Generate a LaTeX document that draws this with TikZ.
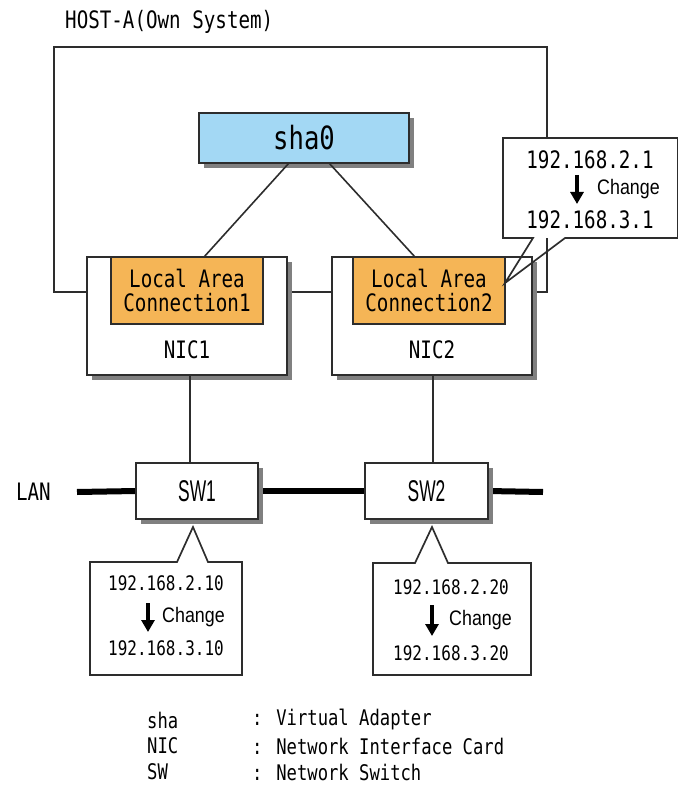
\documentclass[tikz,border=0pt]{standalone}
\usepackage{fontspec}
\newfontfamily\gfont[FakeStretch=0.8]{DejaVu Sans Mono}
\newfontfamily\pfont[FakeStretch=0.85]{Liberation Sans}
\newfontfamily\swfont[FakeStretch=0.58]{Liberation Sans}
\usetikzlibrary{shadows,arrows.meta,calc,backgrounds}
\definecolor{shablue}{RGB}{163,216,244}
\definecolor{lacorange}{RGB}{245,181,86}
\definecolor{edge}{RGB}{45,45,45}
\begin{document}
\begin{tikzpicture}[x=1pt,y=-1pt,
  box/.style={draw=edge, line width=1.7pt, inner sep=0pt, outer sep=0pt, line join=miter},
  shad/.style={drop shadow={shadow xshift=5pt,shadow yshift=-5pt,fill=black!50,opacity=1}},
  link/.style={draw=edge, line width=1.6pt},
  lanline/.style={draw=black, line width=6pt},
  gtext/.style={inner sep=0pt, font=\gfont\fontsize{24}{24}\selectfont},
  gsmall/.style={inner sep=0pt, font=\gfont\fontsize{20}{20}\selectfont},
  gleg/.style={inner sep=0pt, anchor=west, font=\gfont\fontsize{21.5}{21.5}\selectfont},
  ptext/.style={inner sep=0pt, anchor=west, font=\pfont\fontsize{21}{21}\selectfont},
  chg/.style={line width=3.4pt, -{Triangle[width=13pt,length=12pt]}},
  callout/.style={fill=white, inner sep=0pt, outer sep=0pt, anchor=north west}
]
\useasboundingbox (0,0) rectangle (677,786);

% title
\node[gtext, anchor=west] (title) at (65,22) {HOST-A(Own System)};

% host frame
\node[box, minimum width=493pt, minimum height=245pt, anchor=north west] (host) at (54,47) {};

% sha0
\node[box, shad, fill=shablue, minimum width=210pt, minimum height=50pt, anchor=north west,
      font=\gfont\fontsize{32}{32}\selectfont] (sha) at (199,113) {sha0};

% NIC boxes
\node[box, shad, fill=white, minimum width=200pt, minimum height=118pt, anchor=north west] (nic1) at (87,257) {};
\node[box, shad, fill=white, minimum width=200pt, minimum height=118pt, anchor=north west] (nic2) at (332,257) {};
\node[gtext] (nic1lbl) at (187,350) {NIC1};
\node[gtext] (nic2lbl) at (432,350) {NIC2};

% Local Area Connection boxes
\node[box, fill=lacorange, minimum width=152pt, minimum height=67pt, anchor=north west,
      align=center, font=\gfont\fontsize{24}{24}\selectfont] (lac1) at (111,257) {Local Area\\Connection1};
\node[box, fill=lacorange, minimum width=152pt, minimum height=67pt, anchor=north west,
      align=center, font=\gfont\fontsize{24}{24}\selectfont] (lac2) at (353,257) {Local Area\\Connection2};

% sha0 links
\draw[link] ($(sha.south west)+(90,0)$) -- ($(lac1.north)+(17,0)$);
\draw[link] ($(sha.south west)+(130,0)$) -- ($(lac2.north)+(-14,0)$);

% switches
\node[box, shad, fill=white, minimum width=122pt, minimum height=56pt, anchor=north west,
      font=\swfont\fontsize{30}{30}\selectfont] (sw1) at (136,463) {SW1};
\node[box, shad, fill=white, minimum width=123pt, minimum height=56pt, anchor=north west,
      font=\swfont\fontsize{30}{30}\selectfont] (sw2) at (365,463) {SW2};

\begin{scope}[on background layer]
  \coordinate (lanL) at (77,492);
  \coordinate (lanR) at (543,492);
  \draw[lanline] (lanL) -- (sw1.west);
  \draw[lanline] (sw1.east) -- (sw2.west);
  \draw[lanline] (sw2.east) -- (lanR);
\end{scope}
\node[gtext, anchor=east] (lan) at (51,492) {LAN};

\draw[link] ($(nic1.south)+(3,0)$) -- ($(sw1.north)+(-7,0)$);
\draw[link] ($(nic2.south)+(1,0)$) -- ($(sw2.north)+(6.5,0)$);

% callout for LAC2
\node[callout, minimum width=175pt, minimum height=100pt] (co2) at (503,138) {};
\coordinate (tip2) at ($(lac2.east)+(0,-7.5)$);
\draw[box] (co2.south west) -- ++(30,0) -- (tip2) -- ($(co2.south west)+(62,0)$)
   -- (co2.south east) -- (co2.north east) -- (co2.north west) -- cycle;
\node[gtext] (ip2a) at (590,160) {192.168.2.1};
\draw[chg] (577,175) -- (577,204);
\node[ptext] (chg2) at (597,189) {Change};
\node[gtext] (ip2b) at (590,220) {192.168.3.1};

% callout for SW1
\node[callout, minimum width=152pt, minimum height=113pt] (co1) at (90,562) {};
\coordinate (tip1) at ($(sw1.south)+(-4,8)$);
\draw[box] (co1.north west) -- ++(87,0) -- (tip1) -- ($(co1.north west)+(118,0)$)
   -- (co1.north east) -- (co1.south east) -- (co1.south west) -- cycle;
\node[gsmall] (ip1a) at (166,583) {192.168.2.10};
\draw[chg] (148,603) -- (148,632);
\node[ptext] (chg1) at (162,617) {Change};
\node[gsmall] (ip1b) at (166,648) {192.168.3.10};

% callout for SW2
\node[callout, minimum width=158pt, minimum height=112pt] (co3) at (373,563) {};
\coordinate (tip3) at ($(sw2.south)+(5.5,8)$);
\draw[box] (co3.north west) -- ++(42,0) -- (tip3) -- ($(co3.north west)+(75,0)$)
   -- (co3.north east) -- (co3.south east) -- (co3.south west) -- cycle;
\node[gsmall] (ip3a) at (451,587) {192.168.2.20};
\draw[chg] (432,605) -- (432,636);
\node[ptext] (chg3) at (449,620) {Change};
\node[gsmall] (ip3b) at (451,653) {192.168.3.20};

% legend
\node[gleg] (l1a) at (147,720) {sha};
\node[gleg] (l1b) at (252,720) {: Virtual Adapter};
\node[gleg] (l2a) at (147,746) {NIC};
\node[gleg] (l2b) at (252,746) {: Network Interface Card};
\node[gleg] (l3a) at (147,772) {SW};
\node[gleg] (l3b) at (252,772) {: Network Switch};
\end{tikzpicture}
\end{document}
